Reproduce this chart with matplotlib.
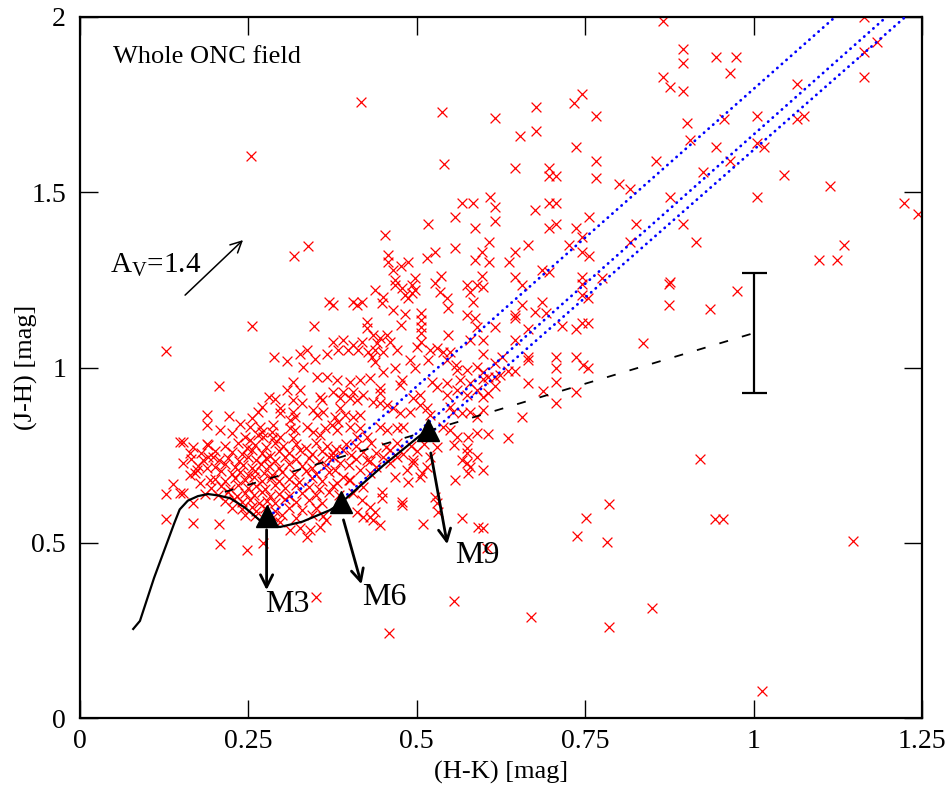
import numpy as np
import matplotlib
matplotlib.use("Agg")
import matplotlib.pyplot as plt

plt.rcParams['font.family'] = ['Liberation Serif', 'DejaVu Serif']
plt.rcParams['mathtext.fontset'] = 'custom'
plt.rcParams['mathtext.rm'] = 'Liberation Serif'

# (H-K, J-H) of the stars
upper = [(0.417,1.757),(0.254,1.603),(0.318,1.318),(0.338,1.346),
    (0.745,1.780),(0.733,1.754),(0.677,1.743),(0.537,1.728),(0.766,1.717),(0.616,1.711),(0.677,1.674),
    (0.653,1.660),(0.736,1.629),(0.766,1.589),(0.540,1.580),(0.646,1.569),(0.696,1.569),(0.696,1.546),
    (0.707,1.546),(0.766,1.540),(0.800,1.523),(0.817,1.509),(0.609,1.486),(0.567,1.469),(0.583,1.469),
    (0.616,1.458),(0.696,1.469),(0.707,1.469),(0.675,1.449),(0.756,1.429),(0.557,1.429),(0.616,1.418),
    (0.517,1.409),(0.587,1.398),(0.696,1.398),(0.707,1.409),(0.736,1.398),(0.825,1.409),(0.453,1.378),
    (0.607,1.358),(0.745,1.372),(0.726,1.349),(0.665,1.349),(0.557,1.340),(0.817,1.358),(0.527,1.329),
    (0.515,1.312),(0.457,1.321),(0.597,1.329),(0.587,1.306),(0.646,1.329),(0.745,1.329),(0.756,1.318),
    (0.457,1.301),(0.477,1.289),(0.487,1.301),(0.465,1.278),(0.607,1.301),(0.637,1.301),(0.686,1.278),
    (0.696,1.272),(0.536,1.261),(0.597,1.261),(0.646,1.258),(0.745,1.258),(0.775,1.255),(0.497,1.255),
    (0.468,1.249)]

upper_right = [(0.866,1.988),(1.164,2.0),(0.895,1.908),(0.895,1.868),(0.944,1.885),(0.974,1.885),
    (0.965,1.840),(0.866,1.828),(0.876,1.800),(0.895,1.788),(1.164,1.900),(1.183,1.928),(1.164,1.828),
    (1.064,1.808),(0.901,1.697),(0.956,1.709),(1.005,1.717),(1.064,1.709),(1.075,1.717),(0.905,1.649),
    (0.944,1.629),(1.005,1.640),(1.015,1.629),(0.855,1.589),(0.965,1.589),(0.925,1.557),(1.045,1.549),
    (1.113,1.517),(0.876,1.486),(1.005,1.486),(1.223,1.469),(1.244,1.438),(0.895,1.409),(0.914,1.358),
    (1.134,1.349),(1.097,1.306),(1.124,1.306),(0.876,1.244)]

lower_right = [(0.598,1.229),(0.656,1.235),(0.874,1.238),(0.874,1.178),(0.745,1.238),(0.745,1.206),
    (0.754,1.198),(0.656,1.178),(0.686,1.187),(0.675,1.158),(0.692,1.155),(0.646,1.149),(0.646,1.141),
    (0.616,1.115),(0.716,1.118),(0.745,1.127),(0.754,1.127),(0.736,1.110),(0.665,1.110),(0.598,1.078),
    (0.646,1.078),(0.836,1.070),(0.598,1.038),(0.665,1.030),(0.665,1.021),(0.707,1.030),(0.707,0.998),
    (0.736,1.030),(0.747,1.007),(0.754,0.998),(0.626,1.030),(0.616,1.013),(0.598,0.987),(0.636,0.990),
    (0.646,0.990),(0.606,0.973),(0.616,0.973),(0.624,0.978),(0.707,0.958),(0.665,0.955),(0.598,0.967),
    (0.616,0.947),(0.606,0.927),(0.598,0.916),(0.687,0.933),(0.736,0.930),(0.707,0.898),(0.598,0.878),
    (0.656,0.858),(0.606,0.810),(0.636,0.799),(0.598,0.707),(0.785,0.610),(0.751,0.570),(0.738,0.519),
    (0.782,0.502),(0.598,0.542),(0.604,0.485),(0.849,0.314),(0.670,0.288),(0.785,0.260),(0.920,0.740),
    (0.975,1.218),(0.935,1.166),(0.943,0.568),(0.955,0.568),(1.148,0.505),(1.013,0.077)]

left = [(0.128,1.047),(0.148,0.787),(0.138,0.667),(0.128,0.639),(0.148,0.642),(0.128,0.568),
    (0.459,0.242),(0.168,0.556),(0.206,0.553),(0.208,0.496),(0.248,0.479),(0.272,0.499),(0.350,0.345),
    (0.153,0.642),(0.168,0.613),(0.163,0.756),(0.183,0.736),(0.174,0.707),(0.188,0.713),(0.197,0.744),
    (0.193,0.679),(0.178,0.670),(0.163,0.693),(0.153,0.727)]

middle = [(0.448,0.645),(0.448,0.627),(0.478,0.616),(0.478,0.608),(0.509,0.553),(0.527,0.630),
    (0.530,0.613),(0.531,0.588),(0.567,0.570),(0.557,0.679),(0.575,0.727),(0.576,0.699),(0.445,0.550),
    (0.430,0.573),(0.438,0.588),(0.508,0.699),(0.487,0.673),(0.468,0.687),(0.494,0.727),(0.555,0.334),
    (0.591,0.545),(0.376,0.744),(0.386,0.727),(0.379,0.707),(0.390,0.687),(0.382,0.670),(0.401,0.679),
    (0.416,0.707),(0.426,0.736),(0.420,0.659),(0.405,0.642),(0.419,0.622),(0.430,0.602),(0.411,0.588),
    (0.420,0.573),(0.435,0.565),(0.460,0.727),(0.471,0.744),(0.485,0.707),(0.494,0.736),(0.505,0.687),
    (0.515,0.716),(0.520,0.744),(0.567,0.736),(0.575,0.756),(0.579,0.716),(0.589,0.744),
    (0.287,0.573),(0.297,0.559),(0.312,0.536),(0.327,0.542),(0.341,0.536),(0.356,0.545),(0.337,0.516),
    (0.361,0.576)]

cluster_top = [(0.255,1.118),(0.347,1.118),(0.370,1.187),(0.288,1.030),(0.307,1.018),(0.327,1.038),
    (0.337,1.050),(0.349,1.024),(0.331,1.001),(0.367,1.038),(0.206,0.947),(0.352,0.973),(0.367,0.973),
    (0.316,0.958),(0.307,0.935),(0.327,0.935),(0.281,0.916),(0.289,0.910),(0.356,0.916),(0.359,0.907),
    (0.316,0.907),(0.330,0.898),(0.270,0.887),(0.264,0.873),(0.297,0.884),(0.316,0.873),(0.319,0.859),
    (0.297,0.870),(0.346,0.878),(0.352,0.864),(0.361,0.873),(0.188,0.864),(0.188,0.836),(0.221,0.861),
    (0.208,0.821),(0.238,0.839),(0.255,0.856),(0.252,0.830),(0.267,0.830),(0.270,0.816),(0.287,0.836),
    (0.285,0.816),(0.312,0.850),(0.312,0.827),(0.319,0.821),(0.316,0.799),(0.337,0.830),(0.346,0.816),
    (0.356,0.807),(0.364,0.827),(0.226,0.813),(0.245,0.801),(0.252,0.793),(0.264,0.807),(0.272,0.801),
    (0.287,0.799),(0.297,0.801),(0.153,0.787),(0.168,0.773),(0.188,0.781)]

cluster_right = [(0.468,1.235),(0.478,1.226),(0.493,1.235),(0.497,1.221),(0.438,1.221),(0.482,1.206),
    (0.493,1.212),(0.527,1.241),(0.534,1.215),(0.545,1.198),(0.575,1.235),(0.579,1.215),(0.589,1.235),
    (0.450,1.201),(0.448,1.184),(0.405,1.187),(0.419,1.187),(0.411,1.178),(0.376,1.178),(0.487,1.198),
    (0.546,1.169),(0.583,1.187),(0.465,1.164),(0.482,1.152),(0.477,1.121),(0.426,1.129),(0.426,1.112),
    (0.506,1.155),(0.506,1.135),(0.506,1.115),(0.506,1.098),(0.506,1.072),(0.500,1.058),(0.546,1.092),
    (0.575,1.149),(0.586,1.141),(0.589,1.115),(0.579,1.078),(0.435,1.092),(0.445,1.084),(0.456,1.092),
    (0.460,1.072),(0.441,1.070),(0.438,1.050),(0.450,1.044),(0.433,1.030),(0.438,1.015),(0.376,1.072),
    (0.390,1.078),(0.383,1.050),(0.398,1.050),(0.405,1.064),(0.419,1.072),(0.413,1.050),(0.428,1.044),
    (0.471,1.050),(0.490,1.021),(0.497,0.998),(0.520,1.050),(0.517,1.021),(0.530,1.055),(0.539,1.044),
    (0.549,1.044),(0.545,1.021),(0.558,1.007),(0.560,0.993),(0.575,0.993),(0.589,1.001),(0.468,0.998),
    (0.382,0.964),(0.401,0.958),(0.416,0.964),(0.431,0.970),(0.450,0.987),(0.478,0.964),(0.475,0.950),
    (0.523,0.958),(0.530,0.944),(0.545,0.955),(0.564,0.964),(0.579,0.955),(0.376,0.930),(0.390,0.930),
    (0.405,0.930),(0.420,0.921),(0.411,0.907),(0.401,0.913),(0.386,0.913),(0.445,0.941),(0.445,0.927),
    (0.494,0.913),(0.505,0.921),(0.545,0.921),(0.560,0.935),(0.575,0.921),(0.589,0.935),(0.435,0.901),
    (0.445,0.898),(0.456,0.893),(0.465,0.884),(0.386,0.884),(0.379,0.859),(0.383,0.844),(0.393,0.864),
    (0.405,0.859),(0.416,0.864),(0.475,0.870),(0.490,0.873),(0.505,0.893),(0.515,0.884),(0.520,0.864),
    (0.549,0.887),(0.554,0.873),(0.567,0.870),(0.579,0.873),(0.589,0.858),(0.445,0.830),(0.456,0.821),
    (0.471,0.827),(0.480,0.830),(0.374,0.836),(0.382,0.821),(0.401,0.830),(0.416,0.827),(0.411,0.801),
    (0.426,0.801),(0.539,0.830),(0.549,0.821),(0.560,0.801),(0.576,0.801),(0.589,0.813)]

cluster_core = [(0.19,0.78),(0.215,0.775),(0.235,0.785),(0.248,0.77),(0.26,0.78),(0.276,0.772),
    (0.29,0.785),(0.302,0.775),(0.32,0.782),(0.335,0.77),(0.35,0.785),(0.366,0.776),(0.38,0.768),
    (0.395,0.782),(0.41,0.775),(0.432,0.785),(0.455,0.772),(0.47,0.785),(0.492,0.775),(0.51,0.782),
    (0.53,0.772),(0.555,0.78),(0.575,0.77),
    (0.18,0.755),(0.2,0.762),(0.225,0.758),(0.24,0.752),(0.256,0.765),(0.27,0.757),(0.282,0.748),
    (0.296,0.762),(0.31,0.755),(0.326,0.765),(0.345,0.752),(0.36,0.762),(0.376,0.757),(0.39,0.765),
    (0.402,0.75),(0.42,0.76),(0.44,0.755),(0.46,0.765),(0.48,0.752),(0.5,0.762),
    (0.165,0.738),(0.19,0.745),(0.206,0.735),(0.22,0.742),(0.236,0.733),(0.25,0.745),(0.262,0.736),
    (0.276,0.742),(0.29,0.732),(0.305,0.745),(0.32,0.738),(0.34,0.742),(0.355,0.733),(0.37,0.745),
    (0.41,0.74),(0.43,0.733),(0.45,0.745),
    (0.175,0.72),(0.2,0.715),(0.215,0.725),(0.23,0.715),(0.242,0.722),(0.255,0.712),(0.268,0.725),
    (0.28,0.718),(0.295,0.712),(0.31,0.725),(0.33,0.718),(0.345,0.712),(0.365,0.722),(0.4,0.722),
    (0.44,0.715),
    (0.17,0.698),(0.21,0.705),(0.225,0.695),(0.238,0.702),(0.25,0.692),(0.26,0.705),(0.273,0.698),
    (0.285,0.692),(0.3,0.702),(0.318,0.695),(0.335,0.705),(0.35,0.695),(0.37,0.702),(0.43,0.698),
    (0.2,0.682),(0.215,0.675),(0.23,0.685),(0.245,0.678),(0.258,0.688),(0.27,0.675),(0.283,0.685),
    (0.296,0.675),(0.31,0.682),(0.325,0.672),(0.345,0.685),(0.36,0.675),(0.4,0.68),
    (0.195,0.655),(0.21,0.662),(0.222,0.652),(0.235,0.665),(0.25,0.655),(0.262,0.662),(0.275,0.652),
    (0.29,0.665),(0.305,0.655),(0.32,0.665),(0.34,0.658),(0.355,0.652),(0.375,0.662),
    (0.185,0.64),(0.205,0.635),(0.22,0.645),(0.233,0.632),(0.245,0.642),(0.258,0.635),(0.27,0.645),
    (0.282,0.632),(0.295,0.64),(0.31,0.633),(0.33,0.642),(0.35,0.635),(0.37,0.645),(0.385,0.635),
    (0.215,0.618),(0.228,0.625),(0.24,0.615),(0.252,0.622),(0.265,0.612),(0.278,0.62),(0.29,0.612),
    (0.305,0.625),(0.32,0.615),(0.34,0.622),(0.36,0.612),
    (0.225,0.6),(0.24,0.595),(0.255,0.603),(0.262,0.59),(0.275,0.598),(0.29,0.59),(0.31,0.6),
    (0.33,0.593),(0.35,0.598),
    (0.245,0.58),(0.26,0.575),(0.3,0.578),(0.32,0.572),(0.345,0.58),(0.365,0.565)]

# dwarf locus (solid) and the M3 / M6 / M9 points on it
locus_hk = [0.079, 0.089, 0.11, 0.14, 0.148, 0.16, 0.175, 0.19, 0.205, 0.223, 0.245, 0.27, 0.278,
            0.297, 0.33, 0.371, 0.387, 0.45, 0.517]
locus_jh = [0.254, 0.277, 0.40, 0.556, 0.595, 0.620, 0.633, 0.639, 0.635, 0.627, 0.60, 0.559, 0.553,
            0.545, 0.56, 0.593, 0.613, 0.72, 0.825]
spt_names = ['M3', 'M6', 'M9']
spt_hk = [0.278, 0.387, 0.517]
spt_jh = [0.576, 0.616, 0.821]

# CTTS locus (dashed)
ctts_hk = [0.215, 1.0]
ctts_jh = [0.645, 1.098]

# reddening lines (blue dotted)
red_hk0 = [0.287, 0.390, 0.520]
red_jh0 = [0.585, 0.626, 0.812]
red_hk1 = [1.121, 1.197, 1.225]
red_jh1 = [2.0, 2.0, 2.0]

stars = np.array(upper + upper_right + lower_right + left + middle
                 + cluster_top + cluster_right + cluster_core)
hk, jh = stars[:, 0], stars[:, 1]

fig = plt.figure(figsize=(9.51, 7.92), dpi=100)
ax = fig.add_axes([80/951, 74/792, 842/951, 701/792])

ax.scatter(hk, jh, marker='x', s=50, c='#ff0000', linewidths=0.9, zorder=2)

for a, b, c, d in zip(red_hk0, red_jh0, red_hk1, red_jh1):
    ax.plot([a, c], [b, d], color='#0000ff', lw=2.0, linestyle=(0, (0.1, 2.1)),
            dash_capstyle='round', zorder=3)

ax.plot(ctts_hk, ctts_jh, color='k', lw=1.3, dashes=(5, 8), zorder=3)
ax.plot(locus_hk, locus_jh, color='k', lw=1.6, zorder=4)
ax.plot(spt_hk, spt_jh, '^', color='k', ms=16, zorder=5)

# arrows from the spectral types to their labels
arr_tail = [(0.277, 0.545), (0.390, 0.573), (0.520, 0.764)]
arr_head = [(0.277, 0.357), (0.419, 0.374), (0.546, 0.488)]
lab_pos = [(0.275, 0.302), (0.419, 0.322), (0.557, 0.442)]
for name, t, h, p in zip(spt_names, arr_tail, arr_head, lab_pos):
    ax.annotate('', xy=h, xytext=t,
                arrowprops=dict(arrowstyle='->', color='k', lw=2.0, mutation_scale=22))
    ax.text(p[0], p[1], name, fontsize=23, va='baseline', ha='left')

# typical error bar
ax.errorbar([1.0], [1.098], yerr=[0.171], fmt='none', ecolor='k', elinewidth=1.6,
            capsize=9, capthick=1.6)

# extinction vector
ax.annotate('', xy=(0.245, 1.369), xytext=(0.153, 1.201),
            arrowprops=dict(arrowstyle='->', color='k', lw=1.1, mutation_scale=20))
ax.text(0.0445, 1.272, r'A$_\mathrm{V}$=1.4', fontsize=21, va='baseline')
ax.text(0.049, 1.868, 'Whole ONC field', fontsize=19, va='baseline')

ax.set_xlim(0, 1.25)
ax.set_ylim(0, 2)
ax.set_xticks([0, 0.25, 0.5, 0.75, 1, 1.25])
ax.set_xticklabels(['0', '0.25', '0.5', '0.75', '1', '1.25'])
ax.set_yticks([0, 0.5, 1, 1.5, 2])
ax.set_yticklabels(['0', '0.5', '1', '1.5', '2'])
ax.tick_params(direction='in', length=13, width=1.0, top=True, right=True, labelsize=20)
ax.tick_params(axis='x', pad=8)
ax.tick_params(axis='y', pad=10)
for s in ax.spines.values():
    s.set_linewidth(1.6)
ax.set_xlabel('(H-K) [mag]', fontsize=19, labelpad=5)
ax.set_ylabel('(J-H) [mag]', fontsize=19, labelpad=-5)

fig.savefig('out.png', dpi=100)
